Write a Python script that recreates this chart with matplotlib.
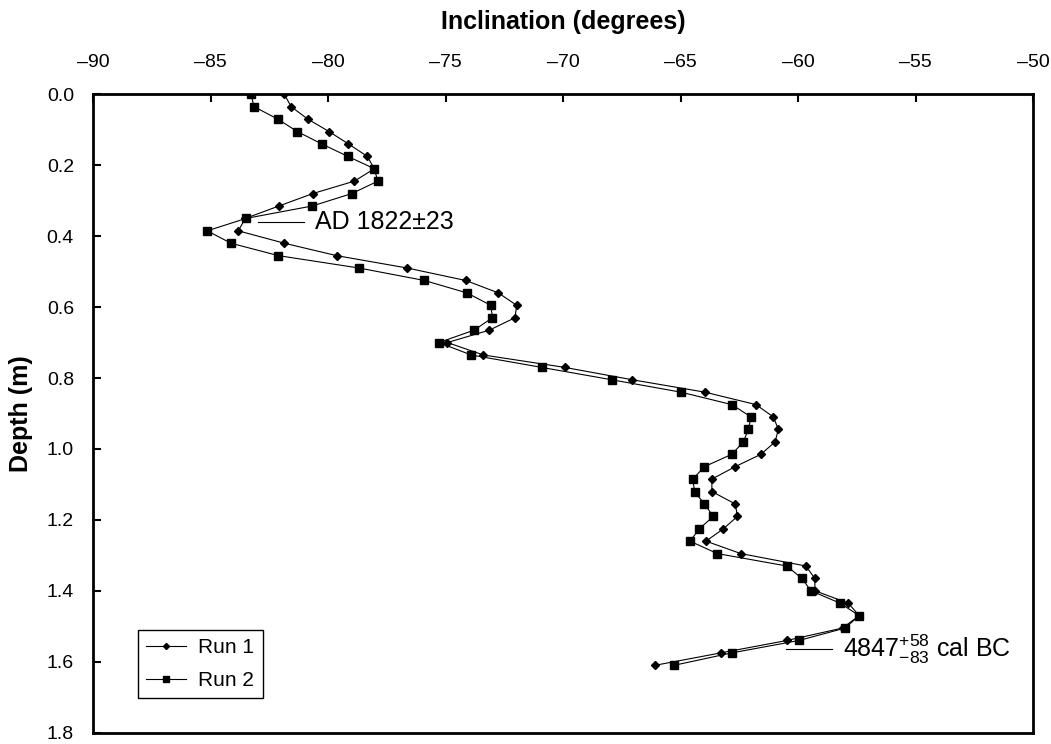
import matplotlib
matplotlib.use("Agg")
import matplotlib.pyplot as plt

plt.rcParams['font.family'] = ['Liberation Sans', 'DejaVu Sans']
plt.rcParams['mathtext.fontset'] = 'custom'
plt.rcParams['mathtext.rm'] = 'Liberation Sans'
plt.rcParams['mathtext.it'] = 'Liberation Sans'
plt.rcParams['mathtext.bf'] = 'Liberation Sans:bold'

depth = [0.000, 0.035, 0.070, 0.105, 0.140, 0.175, 0.210, 0.245, 0.280, 0.315,
         0.350, 0.385, 0.420, 0.455, 0.490, 0.525, 0.560, 0.595, 0.630, 0.665,
         0.700, 0.735, 0.770, 0.805, 0.840, 0.875, 0.910, 0.945, 0.980, 1.015,
         1.050, 1.085, 1.120, 1.155, 1.190, 1.225, 1.260, 1.295, 1.330, 1.365,
         1.400, 1.435, 1.470, 1.505, 1.540, 1.575, 1.610]

run1 = [-81.87, -81.58, -80.87, -79.97, -79.14, -78.34, -78.04, -78.89, -80.66, -82.10,
        -83.53, -83.83, -81.87, -79.64, -76.63, -74.15, -72.76, -71.98, -72.05, -73.14,
        -74.93, -73.40, -69.94, -67.05, -63.96, -61.79, -61.05, -60.84, -60.98, -61.58,
        -62.68, -63.67, -63.67, -62.68, -62.58, -63.18, -63.92, -62.44, -59.67, -59.29,
        -59.28, -57.86, -57.40, -58.11, -60.48, -63.29, -66.09]

run2 = [-83.29, -83.16, -82.15, -81.32, -80.28, -79.17, -78.04, -77.89, -79.00, -80.68,
        -83.50, -85.15, -84.14, -82.12, -78.68, -75.91, -74.10, -73.08, -73.01, -73.79,
        -75.29, -73.92, -70.92, -67.93, -64.98, -62.82, -62.00, -62.12, -62.33, -62.82,
        -63.99, -64.48, -64.41, -63.99, -63.61, -64.20, -64.60, -63.44, -60.48, -59.84,
        -59.45, -58.21, -57.40, -58.00, -59.96, -62.82, -65.28]

x_ticks = [-90, -85, -80, -75, -70, -65, -60, -55, -50]
y_ticks = [0.0, 0.2, 0.4, 0.6, 0.8, 1.0, 1.2, 1.4, 1.6, 1.8]

fig = plt.figure(figsize=(10.51, 7.44), dpi=100)
ax = fig.add_axes([0.0888, 0.0152, 0.8941, 0.8581])

ax.plot(run1, depth, color='black', lw=0.8, marker='D', ms=3.6,
        mfc='black', mec='black', label='Run 1', zorder=3)
ax.plot(run2, depth, color='black', lw=0.8, marker='s', ms=5.2,
        mfc='black', mec='black', label='Run 2', zorder=3)

ax.set_xlim(-90, -50)
ax.set_ylim(1.8, 0.0)
ax.set_xticks(x_ticks)
ax.set_xticklabels(['\u2013%d' % abs(v) for v in x_ticks])
ax.set_yticks(y_ticks)
ax.set_yticklabels(['%.1f' % v for v in y_ticks])

ax.xaxis.tick_top()
ax.xaxis.set_label_position('top')
ax.tick_params(axis='both', direction='in', length=6, width=1.5, labelsize=14)
ax.tick_params(axis='x', pad=17)
ax.tick_params(axis='y', pad=14)
for s in ax.spines.values():
    s.set_linewidth(2.0)

ax.set_xlabel('Inclination (degrees)', fontsize=18, fontweight='bold', labelpad=18)
ax.set_ylabel('Depth (m)', fontsize=18, fontweight='bold', labelpad=10)

# annotations
ax.plot([-82.99, -81.03], [0.359, 0.359], color='black', lw=0.8)
ax.text(-80.56, 0.359, 'AD 1822\u00b123', fontsize=18, va='center', ha='left')

ax.plot([-60.51, -58.57], [1.565, 1.565], color='black', lw=0.8)
ax.text(-58.07, 1.565, r'$4847^{+58}_{-83}$ cal BC', fontsize=18, va='center', ha='left')

leg = ax.legend(loc='lower left', bbox_to_anchor=(0.0476, 0.054), borderaxespad=0,
                fontsize=15, frameon=True, fancybox=False, edgecolor='black',
                framealpha=1, handlelength=1.9, handletextpad=0.6, borderpad=0.4,
                labelspacing=0.65, markerscale=0.85)
leg.get_frame().set_linewidth(1.0)

fig.savefig('out.png', dpi=100)
